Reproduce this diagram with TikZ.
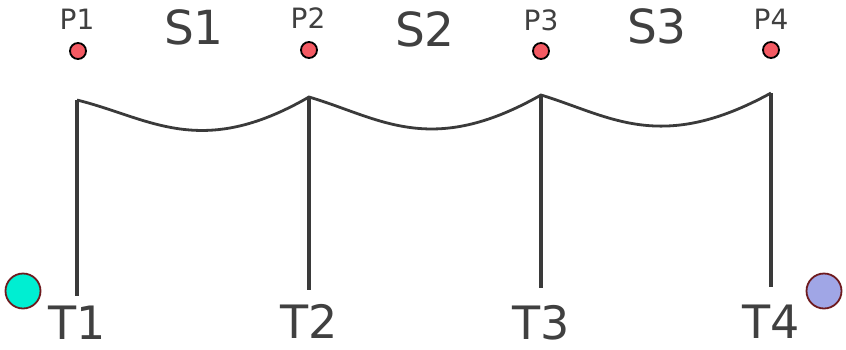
\documentclass[tikz,border=0pt]{standalone}
\usepackage{fontspec}
\setmainfont{DejaVu Sans}
\definecolor{txt}{HTML}{404040}
\definecolor{ln}{HTML}{3A3A3A}
\definecolor{dotred}{HTML}{F45A63}
\definecolor{cyanfill}{HTML}{00EED2}
\definecolor{bluefill}{HTML}{A0A6E6}
\definecolor{rim}{HTML}{6E1A1E}
\tikzset{
  pdot/.style={circle,draw=black,line width=1.8pt,fill=dotred,minimum size=16pt,inner sep=0pt},
  plabel/.style={text=txt,font=\fontsize{28}{28}\selectfont,inner sep=0pt,anchor=base},
  slabel/.style={text=txt,font=\fontsize{47}{47}\selectfont,inner sep=0pt,anchor=base},
  tlabel/.style={text=txt,font=\fontsize{46}{46}\selectfont,inner sep=0pt,anchor=base,text depth=0pt},
  post/.style={draw=ln,line width=3.5pt},
  wave/.style={draw=ln,line width=2.8pt},
  endball/.style={circle,draw=rim,line width=1.8pt,minimum size=35pt,inner sep=0pt}
}
\begin{document}
\begin{tikzpicture}[x=1pt,y=-1pt]
\useasboundingbox (0,0) rectangle (846,349);
% dots
\node[pdot] (p1) at (78,51) {};
\node[pdot] (p2) at (309,50) {};
\node[pdot] (p3) at (541,51) {};
\node[pdot] (p4) at (771,50) {};
% labels
\node[plabel] (lp1) at (77,29) {P1};
\node[plabel] (lp2) at (308,28) {P2};
\node[plabel] (lp3) at (541,30) {P3};
\node[plabel] (lp4) at (771,29) {P4};
\node[slabel] (s1) at (194,44) {S1};
\node[slabel] (s2) at (425,46) {S2};
\node[slabel] (s3) at (657,43) {S3};
% posts
\coordinate (a1) at (77,100);
\coordinate (a2) at (309,97);
\coordinate (a3) at (541,95);
\coordinate (a4) at (771,93);
\coordinate (b1) at (77,296);
\coordinate (b2) at (309,290);
\coordinate (b3) at (541,288);
\coordinate (b4) at (771,287);
\draw[post] (a1) -- (b1);
\draw[post] (a2) -- (b2);
\draw[post] (a3) -- (b3);
\draw[post] (a4) -- (b4);
% wave
\draw[wave] (a1) .. controls (150,118) and (200,160) .. (a2)
  .. controls (380,118) and (430,158) .. (a3)
  .. controls (610,116) and (660,154) .. (a4);
% T labels
\node[tlabel] (t1) at (77,339) {T1};
\node[tlabel] (t2) at (309,338) {T2};
\node[tlabel] (t3) at (541,339) {T3};
\node[tlabel] (t4) at (771,338) {T4};
% end balls
\node[endball,fill=cyanfill] (c1) at (23,291) {};
\node[endball,fill=bluefill] (c2) at (824,291) {};
\end{tikzpicture}
\end{document}
